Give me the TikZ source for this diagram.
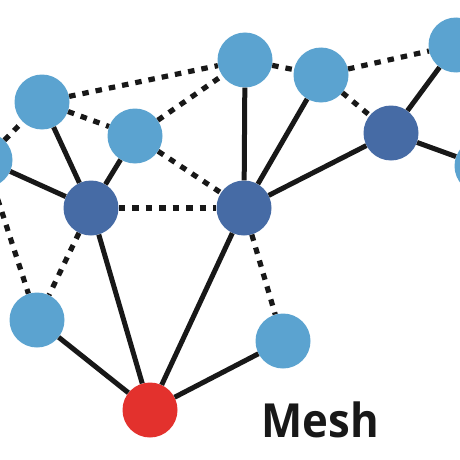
\documentclass[tikz,border=0pt]{standalone}
\usepackage{fontspec}
\setmainfont{Open Sans}
\definecolor{lightnode}{RGB}{91,163,208}
\definecolor{darknode}{RGB}{70,107,165}
\definecolor{rednode}{RGB}{227,49,45}
\definecolor{linecol}{RGB}{24,24,24}
\begin{document}
\begin{tikzpicture}[x=1pt,y=-1pt,
  nd/.style={circle,minimum size=55pt,inner sep=0pt,fill=#1},
  solidedge/.style={draw=linecol,line width=5pt},
  dotedge/.style={draw=linecol,line width=5.2pt,dash pattern=on 6.5pt off 7pt}]
\useasboundingbox (0,0) rectangle (460,460);
\node[nd=lightnode] (A) at (-15,160) {};
\node[nd=lightnode] (B) at (42,102) {};
\node[nd=lightnode] (C) at (135,136) {};
\node[nd=darknode] (D) at (91,208) {};
\node[nd=darknode] (E) at (244,208) {};
\node[nd=lightnode] (F) at (245,60) {};
\node[nd=lightnode] (G) at (321,75) {};
\node[nd=darknode] (H) at (391,133) {};
\node[nd=lightnode] (I) at (456,45) {};
\node[nd=lightnode] (J) at (482,166) {};
\node[nd=lightnode] (K) at (37,320) {};
\node[nd=rednode] (L) at (150,410) {};
\node[nd=lightnode] (M) at (283,341) {};
\node[font=\bfseries\fontsize{47}{47}\selectfont,text=linecol,anchor=base,xscale=0.93,inner sep=0pt] (T) at (320,437) {Mesh};
\begin{scope}
\path[solidedge] (B) -- (D);
\path[solidedge] (A) -- (D);
\path[solidedge] (C) -- (D);
\path[solidedge] (D) -- (L);
\path[solidedge] (K) -- (L);
\path[solidedge] (E) -- (L);
\path[solidedge] (M) -- (L);
\path[solidedge] (E) -- (F);
\path[solidedge] (E) -- (G);
\path[solidedge] (E) -- (H);
\path[solidedge] (H) -- (I);
\path[solidedge] (H) -- (J);
\path[dotedge] (A) -- (B);
\path[dotedge] (B) -- (F);
\path[dotedge] (B) -- (C);
\path[dotedge] (C) -- (F);
\path[dotedge] (C) -- (E);
\path[dotedge] (D) -- (E);
\path[dotedge] (A) -- (K);
\path[dotedge] (D) -- (K);
\path[dotedge] (E) -- (M);
\path[dotedge] (F) -- (G);
\path[dotedge] (G) -- (I);
\path[dotedge] (G) -- (H);
\end{scope}
\end{tikzpicture}
\end{document}
